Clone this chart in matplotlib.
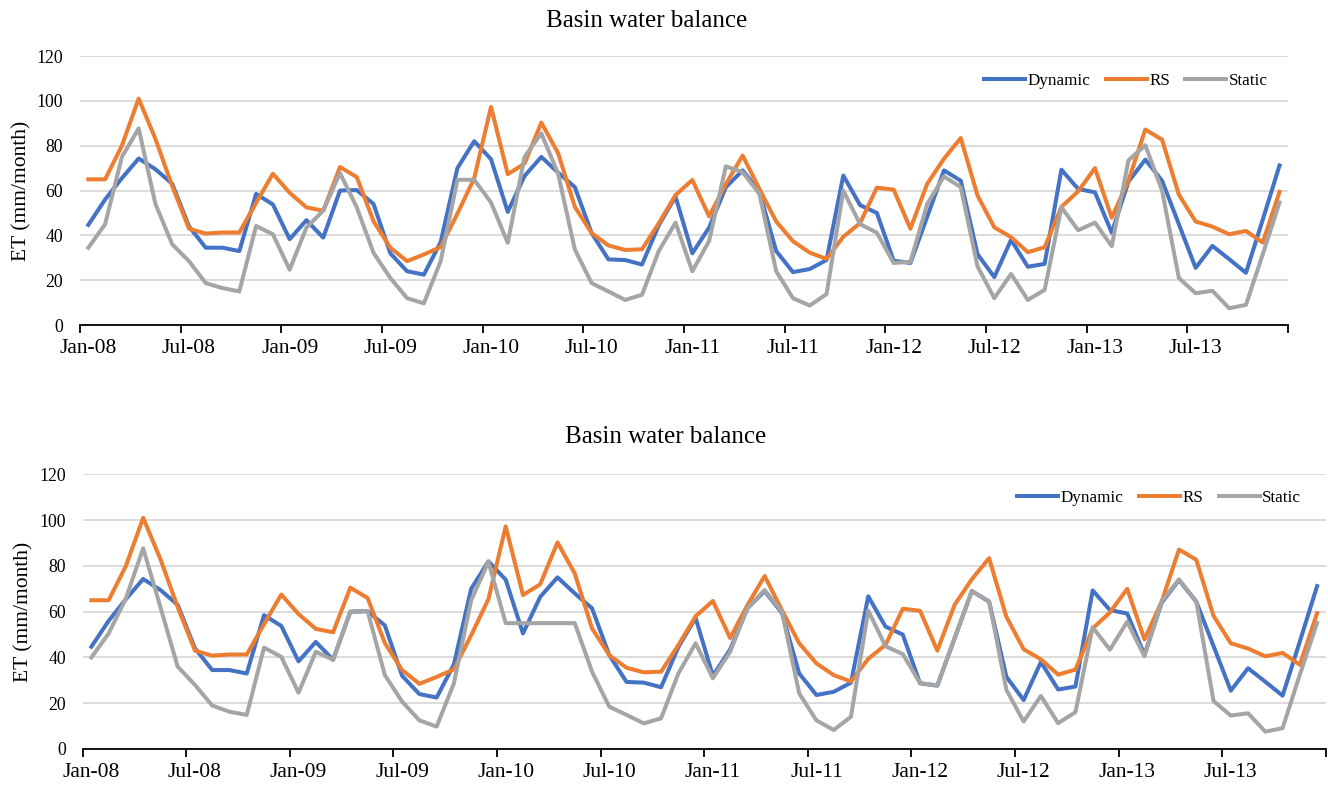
import matplotlib
matplotlib.use("Agg")
import matplotlib.pyplot as plt
import numpy as np

# monthly ET (mm/month), Jan-08 .. Dec-13
dynamic = [44.7, 56, 65.5, 74.3, 69.5, 63, 44, 34.5, 34.5, 33, 58.5, 53.8,
           38.3, 46.8, 39, 60, 60.2, 54, 32, 24, 22.5, 37, 70, 82,
           74, 50.5, 66.5, 75, 68, 61.5, 41, 29.3, 29, 27, 44.5, 57.3,
           32, 43.5, 61.5, 69, 59.5, 33, 23.6, 25, 29, 66.7, 53.5, 50,
           28.7, 27.7, 48.3, 69, 64.4, 31.6, 21.4, 38, 26, 27.3, 69.3, 60.7,
           59.2, 41.2, 64, 73.8, 64.4, 45, 25.5, 35.3, 29.4, 23.3, 47, 71.2]

rs = [65, 65, 80, 101, 83, 62, 43, 40.8, 41.3, 41.3, 54.5, 67.5,
      59, 52.5, 51, 70.5, 66, 46.3, 34.5, 28.5, 31.5, 34.8, 49.7, 65.5,
      97.3, 67.3, 72, 90.3, 76.7, 52.7, 41, 35.5, 33.5, 33.8, 45.4, 58,
      64.7, 48.5, 62.9, 75.6, 60.7, 46.2, 37.4, 32.3, 29.5, 39.4, 45.5, 61.3,
      60.4, 43, 63, 74.2, 83.4, 57.8, 43.6, 39.2, 32.5, 34.7, 52.7, 59.7,
      70, 47.9, 64.5, 87.2, 82.7, 58.2, 46.2, 43.9, 40.5, 42, 36.8, 59.4]

static_top = [34.5, 45, 75, 87.7, 54, 36, 28.5, 18.7, 16.5, 15, 44.2, 40.5,
              24.7, 43.5, 51, 67.8, 52.5, 32.2, 21, 12, 9.7, 28.5, 64.8, 64.8,
              54.7, 36.7, 75, 85.5, 67.5, 33.7, 18.7, 15, 11.2, 13.5, 33, 45.7,
              24, 37.5, 70.8, 68.2, 58.5, 24, 12, 8.7, 13.8, 60, 45, 41.2,
              27.7, 28.2, 54, 66.3, 61.5, 26.2, 12, 22.8, 11.2, 15.7, 52.5, 42.3,
              45.7, 35.2, 73.5, 80.2, 60, 21, 14.2, 15.3, 7.5, 9, 31.5, 54.7]

static_bottom = [40, 50.5, 65.8, 87.7, 62, 36, 28, 19, 16.3, 14.9, 44.3, 40.3,
                 24.6, 42.5, 39, 60, 60.3, 32.3, 20.7, 12.5, 9.8, 28.7, 65, 81.8,
                 55, 55, 55, 55, 55, 33.8, 18.5, 14.9, 11.2, 13.4, 33, 46.2,
                 30.9, 42.5, 61.5, 69.5, 60, 24.3, 12.5, 8.3, 14.1, 60.5, 44.9, 41.5,
                 28.8, 27.8, 48.5, 69, 64.6, 25.9, 12, 23.2, 11.3, 16.1, 53.2, 43.4,
                 55.6, 40.5, 64.6, 74.1, 64.6, 21, 14.6, 15.6, 7.6, 9.1, 32.5, 55.1]

month_labels = ["Jan-08", "Jul-08", "Jan-09", "Jul-09", "Jan-10", "Jul-10",
                "Jan-11", "Jul-11", "Jan-12", "Jul-12", "Jan-13", "Jul-13"]
yticks = [0, 20, 40, 60, 80, 100, 120]

plt.rcParams["font.family"] = ["Liberation Serif", "DejaVu Serif"]

fig = plt.figure(figsize=(13.28, 7.89), dpi=100)


def panel(rect, static, legend_xy):
    ax = fig.add_axes(rect)
    x = np.arange(len(dynamic))
    ax.plot(x, dynamic, color="#4472C4", lw=2.9, label="Dynamic", solid_joinstyle="round")
    ax.plot(x, rs, color="#ED7D31", lw=2.9, label="RS", solid_joinstyle="round")
    ax.plot(x, static, color="#A5A5A5", lw=2.9, label="Static", solid_joinstyle="round")

    ax.set_xlim(-0.5, len(x) - 0.5)
    ax.set_ylim(0, 120)
    ax.set_yticks(yticks)
    ax.tick_params(axis="y", length=0, pad=12, labelsize=12.8)
    ax.grid(axis="y", color="#D9D9D9", lw=1.3)
    ax.set_axisbelow(True)

    # tick marks at category edges, labels centred on the month
    ax.set_xticks(np.arange(-0.5, len(x), 6))
    ax.set_xticklabels([])
    ax.set_xticks(np.arange(0, len(x), 6), minor=True)
    ax.set_xticklabels(month_labels, minor=True)
    ax.tick_params(axis="x", which="major", length=6, width=1.3, direction="out")
    ax.tick_params(axis="x", which="minor", length=0, pad=10, labelsize=15.5)

    for s in ["top", "right", "left"]:
        ax.spines[s].set_visible(False)
    ax.spines["bottom"].set_linewidth(1.3)

    ax.set_ylabel("ET (mm/month)", fontsize=15.5)
    ax.yaxis.set_label_coords(-0.04, 0.5)

    ax.legend(loc="center", bbox_to_anchor=legend_xy, ncol=3, frameon=False,
              fontsize=12.3, handlelength=2.4, handletextpad=0.15, columnspacing=0.9)
    return ax


panel([0.0602, 0.588, 0.9096, 0.341], static_top, (0.866, 0.908))
panel([0.0623, 0.0507, 0.936, 0.348], static_bottom, (0.866, 0.914))

fig.text(647 / 1328, 1 - 21 / 789, "Basin water balance", ha="center", va="center", fontsize=18)
fig.text(666 / 1328, 1 - 437 / 789, "Basin water balance", ha="center", va="center", fontsize=18)

fig.savefig("out.png", dpi=100, facecolor="white")
